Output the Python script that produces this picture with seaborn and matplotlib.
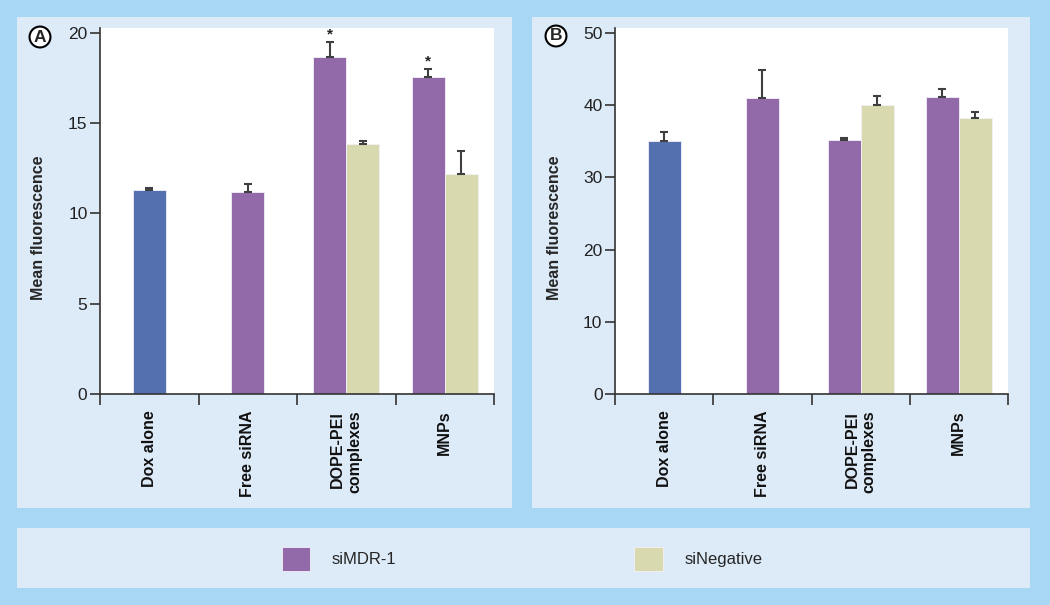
import pandas as pd
import matplotlib.pyplot as plt
import seaborn as sns
from matplotlib.patches import Rectangle, Patch

# -------------------------
# Data
# -------------------------
groups = ["Dox alone", "Free siRNA", "DOPE-PEI\ncomplexes", "MNPs"]
treatments = ["siMDR-1", "siNegative"]

# panel A
a_single = [11.3, 11.2]          # Dox alone, Free siRNA
a_single_err = [0.12, 0.4]
a_mdr = [18.63, 17.52]           # DOPE-PEI, MNPs
a_mdr_err = [0.83, 0.46]
a_neg = [13.83, 12.17]
a_neg_err = [0.15, 1.29]

# panel B
b_single = [35.0, 41.0]
b_single_err = [1.25, 3.9]
b_mdr = [35.2, 41.2]
b_mdr_err = [0.3, 1.1]
b_neg = [40.1, 38.3]
b_neg_err = [1.2, 0.7]

a_ticks = [0, 5, 10, 15, 20]
b_ticks = [0, 10, 20, 30, 40, 50]
star_groups = ["DOPE-PEI\ncomplexes", "MNPs"]   # significance marks in panel A

# colours
OUTER_BG = "#a8d7f3"
PANEL_BG = "#ddeaf8"
C_DOX = "#5470ae"
C_MDR = "#9269a9"
C_NEG = "#d8d9ae"
C_ERR = "#3f3f3f"

sns.set_theme(style="ticks")
plt.rcParams["font.family"] = ["Liberation Sans", "DejaVu Sans"]


def build_frames(single, single_err, mdr, mdr_err, neg, neg_err):
    single_df = pd.DataFrame({
        "group": groups[:2],
        "value": single,
        "err": single_err,
    })
    pair_df = pd.DataFrame({
        "group": groups[2:] * 2,
        "treatment": [treatments[0]] * 2 + [treatments[1]] * 2,
        "value": mdr + neg,
        "err": mdr_err + neg_err,
    })
    return single_df, pair_df


def draw_panel(ax, single_df, pair_df, ticks, ytop, stars=False):
    sns.barplot(
        data=single_df, x="group", y="value", hue="group", order=groups,
        palette={groups[0]: C_DOX, groups[1]: C_MDR}, width=0.335,
        dodge=False, legend=False, errorbar=None, ax=ax, saturation=1,
        edgecolor="#f4f0f8", linewidth=0.6,
    )
    sns.barplot(
        data=pair_df, x="group", y="value", hue="treatment", order=groups,
        hue_order=treatments, palette=[C_MDR, C_NEG], width=0.67,
        dodge=True, legend=False, errorbar=None, ax=ax, saturation=1,
        edgecolor="#f4f0f8", linewidth=0.6,
    )

    # error bars (upper side only), placed on the drawn bars
    for patch in ax.patches:
        h = patch.get_height()
        if h <= 0:
            continue
        xc = patch.get_x() + patch.get_width() / 2
        gi = int(round(xc))
        g = groups[gi]
        if gi < 2:
            row = single_df[single_df["group"] == g].iloc[0]
            t = None
        else:
            t = treatments[0] if xc < gi else treatments[1]
            row = pair_df[(pair_df["group"] == g) & (pair_df["treatment"] == t)].iloc[0]
        ax.errorbar(xc, row["value"], yerr=[[0], [row["err"]]], fmt="none",
                    ecolor=C_ERR, elinewidth=1.5, capsize=3.2, capthick=1.5,
                    zorder=3)
        if stars and t == treatments[0] and g in star_groups:
            ax.annotate("*", (xc, row["value"] + row["err"]),
                        xytext=(0, 0.5), textcoords="offset points",
                        ha="center", va="bottom", fontsize=11,
                        fontweight="bold", color="#222222")

    ax.set_facecolor("white")
    ax.set_xlim(-0.5, len(groups) - 0.5)
    ax.set_ylim(0, ytop)
    ax.set_yticks(ticks)
    ax.set_yticklabels([str(t) for t in ticks], fontsize=12.5, color="#222222")
    ax.set_xticks([i - 0.5 for i in range(len(groups) + 1)])
    ax.set_xticklabels([])
    ax.set_xticks(range(len(groups)), minor=True)
    ax.set_xticklabels(groups, minor=True, rotation=90, fontsize=11.5,
                       fontweight="bold", ma="right", color="#111111")
    ax.tick_params(axis="x", which="major", length=8, width=1.2, direction="out",
                   color="#333333")
    ax.tick_params(axis="x", which="minor", length=0, pad=12)
    ax.tick_params(axis="y", length=7, width=1.2, color="#333333", pad=2)
    ax.set_xlabel("")
    ax.set_ylabel("Mean fluorescence", fontsize=11.5, fontweight="bold")
    ax.yaxis.set_label_coords(-0.136, 0.455)
    sns.despine(ax=ax)
    for s in ["left", "bottom"]:
        ax.spines[s].set_color("#333333")
        ax.spines[s].set_linewidth(1.2)


# -------------------------
# Figure layout
# -------------------------
W, H = 1050, 605
fig = plt.figure(figsize=(W / 100, H / 100), dpi=100)
fig.patch.set_facecolor(OUTER_BG)


def px_rect(x0, y0, x1, y1):
    return [x0 / W, 1 - y1 / H, (x1 - x0) / W, (y1 - y0) / H]


for x0, y0, x1, y1 in [(17, 17, 512, 508), (532, 17, 1030, 508), (17, 528, 1030, 588)]:
    l, b, w, h = px_rect(x0, y0, x1, y1)
    fig.patches.append(Rectangle((l, b), w, h, transform=fig.transFigure,
                                 facecolor=PANEL_BG, edgecolor="none", zorder=-1))

ax_a = fig.add_axes(px_rect(100, 28, 494, 394))
ax_b = fig.add_axes(px_rect(615, 28, 1008, 394))

sa, pa = build_frames(a_single, a_single_err, a_mdr, a_mdr_err, a_neg, a_neg_err)
sb, pb = build_frames(b_single, b_single_err, b_mdr, b_mdr_err, b_neg, b_neg_err)

draw_panel(ax_a, sa, pa, a_ticks, 20.25, stars=True)
draw_panel(ax_b, sb, pb, b_ticks, 50.7)

# panel letters
for label, (px, py) in [("A", (40, 37)), ("B", (556, 36))]:
    fig.text(px / W, 1 - py / H, label, ha="center", va="center",
             fontsize=12.5, fontweight="bold",
             bbox=dict(boxstyle="circle,pad=0.17", facecolor="white",
                       edgecolor="black", linewidth=1.5))

# legend
handles = [Patch(facecolor=C_MDR, edgecolor="#f4f0f8", linewidth=0.6),
           Patch(facecolor=C_NEG, edgecolor="#f4f0f8", linewidth=0.6)]
fig.legend(handles, treatments, loc="center", ncol=2, frameon=False,
           bbox_to_anchor=(522 / W, 1 - 559 / H), fontsize=12,
           handlelength=1.7, handleheight=1.9, handletextpad=1.3,
           columnspacing=14.3)

plt.savefig("out.png", dpi=100, facecolor=fig.get_facecolor())
